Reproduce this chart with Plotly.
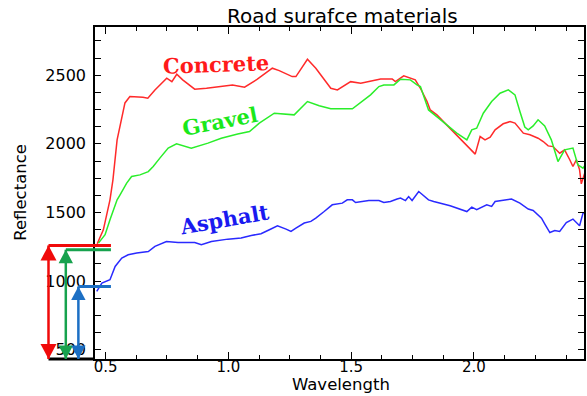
import plotly.graph_objects as go

# ---------------- data ----------------
concrete_wl = [0.466, 0.491, 0.518, 0.530, 0.547, 0.559, 0.579, 0.599, 0.652, 0.672,
               0.701, 0.749, 0.770, 0.790, 0.814, 0.863, 0.911, 1.017, 1.066, 1.118,
               1.179, 1.207, 1.260, 1.275, 1.322, 1.356, 1.417, 1.444, 1.498, 1.539,
               1.572, 1.620, 1.667, 1.680, 1.714, 1.761, 1.782, 1.809, 1.822, 1.849,
               2.005, 2.025, 2.045, 2.066, 2.086, 2.119, 2.147, 2.167, 2.201, 2.228,
               2.261, 2.282, 2.302, 2.322, 2.349, 2.369, 2.390, 2.403, 2.417, 2.430,
               2.437, 2.451]
concrete_refl = [1272, 1374, 1592, 1738, 2029, 2124, 2298, 2344, 2340, 2333,
                 2393, 2478, 2453, 2507, 2466, 2398, 2405, 2429, 2413, 2471,
                 2551, 2533, 2490, 2490, 2616, 2551, 2405, 2393, 2453, 2442,
                 2453, 2473, 2473, 2453, 2495, 2466, 2405, 2308, 2247, 2211,
                 1925, 2053, 2029, 2049, 2102, 2146, 2162, 2151, 2078, 2066,
                 2041, 2017, 1985, 1980, 1932, 1956, 1884, 1835, 1884, 1811,
                 1709, 1787]

gravel_wl = [0.471, 0.498, 0.518, 0.539, 0.547, 0.559, 0.586, 0.606, 0.640, 0.674,
             0.694, 0.721, 0.755, 0.789, 0.815, 0.849, 0.917, 0.971, 1.038, 1.086,
             1.126, 1.187, 1.268, 1.322, 1.370, 1.417, 1.505, 1.552, 1.579, 1.613,
             1.633, 1.674, 1.701, 1.741, 1.768, 1.782, 1.815, 1.856, 1.903, 1.930,
             1.971, 1.991, 2.011, 2.038, 2.072, 2.106, 2.140, 2.167, 2.187, 2.207,
             2.221, 2.241, 2.261, 2.288, 2.315, 2.342, 2.369, 2.403, 2.423, 2.444,
             2.451]
gravel_refl = [1277, 1338, 1447, 1544, 1592, 1629, 1714, 1762, 1774, 1798,
               1835, 1896, 1969, 2000, 1985, 1969, 2005, 2041, 2071, 2090,
               2151, 2223, 2211, 2308, 2277, 2255, 2255, 2320, 2357, 2417,
               2429, 2429, 2471, 2466, 2429, 2417, 2247, 2187, 2114, 2078,
               2029, 2102, 2114, 2223, 2308, 2369, 2393, 2357, 2235, 2122,
               2102, 2131, 2175, 2131, 2029, 1871, 1956, 1969, 1847, 1823,
               1840]

asphalt_wl = [0.464, 0.485, 0.518, 0.539, 0.566, 0.592, 0.627, 0.674, 0.701, 0.748,
              0.795, 0.863, 0.890, 0.931, 0.998, 1.052, 1.093, 1.133, 1.167, 1.200,
              1.235, 1.255, 1.275, 1.309, 1.336, 1.356, 1.390, 1.423, 1.464, 1.484,
              1.505, 1.518, 1.572, 1.613, 1.633, 1.660, 1.687, 1.701, 1.721, 1.734,
              1.748, 1.775, 1.815, 1.836, 1.903, 1.971, 1.991, 2.011, 2.052, 2.072,
              2.086, 2.119, 2.153, 2.187, 2.221, 2.241, 2.275, 2.288, 2.309, 2.329,
              2.349, 2.376, 2.403, 2.430, 2.444, 2.451]
asphalt_refl = [925, 986, 1010, 1107, 1168, 1192, 1205, 1216, 1253, 1289,
                1282, 1282, 1265, 1289, 1306, 1314, 1333, 1345, 1374, 1403,
                1379, 1362, 1386, 1423, 1435, 1459, 1507, 1556, 1568, 1592,
                1592, 1573, 1587, 1587, 1573, 1580, 1598, 1605, 1587, 1616,
                1587, 1653, 1592, 1580, 1549, 1507, 1539, 1520, 1556, 1544,
                1580, 1587, 1598, 1568, 1525, 1515, 1459, 1418, 1354, 1369,
                1362, 1427, 1452, 1403, 1496, 1498]

series_names = ["Concrete", "Gravel", "Asphalt"]
arrow_levels = [1260, 1229, 961]   # reflectance levels marked by the arrows

# ---------------- styling ----------------
X_RANGE = [0.457, 2.448]
Y_RANGE = [433, 2851]
line_colors = ["#ff2a2a", "#2aee2a", "#2a2aff"]
label_colors = ["#ff1a1a", "#1ae81a", "#1a1af0"]
arrow_colors = ["#f00a0a", "#17a24e", "#1c6fc4"]
label_pos = [(0.948, 2575, -2), (0.964, 2160, -11), (0.984, 1447, -10)]
arrow_paper_x = [-0.0951, -0.0597, -0.0340]
tri_size = [(16, 15), (14.4, 13.5), (14.4, 13.5)]
hline_end = 0.0326

fig = go.Figure()
data = [(concrete_wl, concrete_refl), (gravel_wl, gravel_refl), (asphalt_wl, asphalt_refl)]
for (wl, refl), name, col in zip(data, series_names, line_colors):
    fig.add_trace(go.Scatter(x=wl, y=refl, mode="lines", name=name,
                             line=dict(color=col, width=1.5), showlegend=False))

annotations = []
for name, col, (lx, ly, ang) in zip(series_names, label_colors, label_pos):
    annotations.append(dict(x=lx, y=ly, xref="x", yref="y", text="<b>%s</b>" % name,
                            showarrow=False, textangle=ang,
                            font=dict(family="DejaVu Serif", size=21, color=col),
                            xanchor="center", yanchor="middle"))

annotations += [
    dict(x=0.507, y=1.0346, xref="paper", yref="paper", text="Road surafce materials",
         showarrow=False, font=dict(family="DejaVu Sans", size=20, color="black"),
         xanchor="center", yanchor="middle"),
    dict(x=0.504, y=-0.078, xref="paper", yref="paper", text="Wavelength",
         showarrow=False, font=dict(family="DejaVu Sans", size=16.5, color="black"),
         xanchor="center", yanchor="middle"),
    dict(x=-0.1527, y=0.5015, xref="paper", yref="paper", text="Reflectance",
         showarrow=False, textangle=-90,
         font=dict(family="DejaVu Sans", size=16.5, color="black"),
         xanchor="center", yanchor="middle"),
]

shapes = []
# black baseline extension in the left margin
shapes.append(dict(type="line", xref="paper", yref="paper", x0=-0.0951, x1=0, y0=0, y1=0,
                   line=dict(color="black", width=3)))
for lvl, col, px, (tw, th) in zip(arrow_levels, arrow_colors, arrow_paper_x, tri_size):
    shapes.append(dict(type="line", xref="paper", yref="y", x0=px, x1=hline_end,
                       y0=lvl, y1=lvl, line=dict(color=col, width=3)))
    shapes.append(dict(type="line", xref="paper", yref="y", x0=px, x1=px,
                       y0=lvl, y1=Y_RANGE[0], line=dict(color=col, width=2.5)))
    shapes.append(dict(type="path", xref="paper", yref="y",
                       xsizemode="pixel", xanchor=px, ysizemode="pixel", yanchor=lvl,
                       path="M%.1f,%.1f L%.1f,%.1f L0,0 Z" % (-tw / 2, -th, tw / 2, -th),
                       fillcolor=col, line=dict(width=0)))
    shapes.append(dict(type="path", xref="paper", yref="paper",
                       xsizemode="pixel", xanchor=px, ysizemode="pixel", yanchor=0,
                       path="M%.1f,%.1f L%.1f,%.1f L0,0 Z" % (-tw / 2, th, tw / 2, th),
                       fillcolor=col, line=dict(width=0)))

xtickfont = dict(family="DejaVu Sans", size=15, color="black")
ytickfont = dict(family="DejaVu Sans", size=16, color="black")
fig.update_layout(
    width=587, height=396,
    margin=dict(l=95, r=1, t=27, b=37, pad=0),
    paper_bgcolor="white", plot_bgcolor="white",
    showlegend=False,
    annotations=annotations,
    shapes=shapes,
    xaxis=dict(range=X_RANGE, showline=True, linecolor="black", linewidth=1.5,
               mirror="ticks", ticks="inside", ticklen=7, tickwidth=1.2, tickcolor="black",
               tick0=0.5, dtick=0.5, tickformat=".1f", showgrid=False, zeroline=False,
               tickfont=xtickfont, ticklabelstandoff=-7,
               minor=dict(ticks="inside", ticklen=4, tickwidth=1.2, tickcolor="black",
                          tick0=0.5, dtick=0.125, showgrid=False)),
    yaxis=dict(range=Y_RANGE, showline=True, linecolor="black", linewidth=1.5,
               mirror="ticks", ticks="inside", ticklen=6, tickwidth=1.2, tickcolor="black",
               tick0=500, dtick=500, showgrid=False, zeroline=False,
               tickfont=ytickfont, ticklabelstandoff=4,
               minor=dict(ticks="inside", ticklen=6, tickwidth=1.2, tickcolor="black",
                          tick0=500, dtick=125, showgrid=False)),
)

# remove the browser's default 8px body margin so the figure sits at the page origin
fig.write_html("out.html",
               config={"displayModeBar": False},
               post_script="document.body.style.margin='0px';document.body.style.overflow='hidden';")
